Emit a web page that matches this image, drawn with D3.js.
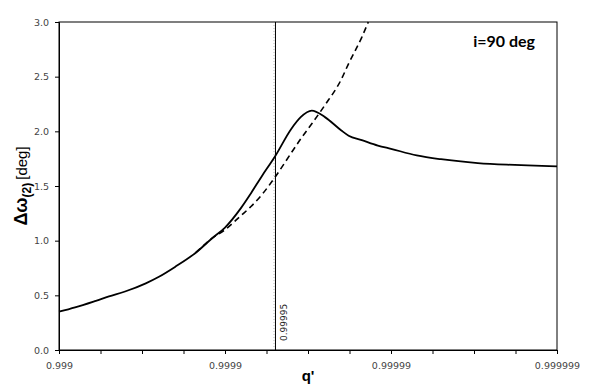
<!DOCTYPE html>
<html>
<head>
<meta charset="utf-8">
<script src="https://cdn.jsdelivr.net/npm/d3@7"></script>
<style>
  body { margin: 0; background: #fff; }
  .tick text { font-family: "DejaVu Sans", Verdana, sans-serif; font-size: 9.5px; fill: #444; }
  .tick line { stroke: #000; }
  .domain { stroke: #000; }
</style>
</head>
<body>
<div id="graphic"></div>
<script>
// q' values (solid curve) and Δω(2) in deg
const qSolid = [0.999, 0.9992, 0.9994, 0.9995, 0.9996, 0.9997, 0.99975, 0.9998, 0.99985, 0.99988,
  0.9999, 0.99992, 0.99993, 0.99994, 0.99995, 0.99996, 0.999965, 0.99997, 0.999975, 0.99998,
  0.999982, 0.999985, 0.999988, 0.99999, 0.999993, 0.999995, 0.999997, 0.999998, 0.9999985, 0.999999];
const wSolid = [0.35, 0.39, 0.45, 0.49, 0.535, 0.61, 0.67, 0.76, 0.89, 1.02,
  1.12, 1.30, 1.43, 1.59, 1.77, 2.02, 2.13, 2.19, 2.13, 2.01,
  1.96, 1.92, 1.87, 1.84, 1.78, 1.745, 1.71, 1.695, 1.688, 1.68];

// dashed curve
const qDash = [0.99985, 0.99988, 0.9999, 0.99992, 0.99993, 0.99994, 0.99995, 0.99996, 0.999965,
  0.99997, 0.999975, 0.99998, 0.999982, 0.999985, 0.9999863];
const wDash = [0.89, 1.02, 1.10, 1.23, 1.31, 1.42, 1.58, 1.80, 1.93,
  2.07, 2.24, 2.47, 2.62, 2.86, 3.0];

const xTicks = [0.999, 0.9999, 0.99999, 0.999999];
const xTickLabels = ['0.999', '0.9999', '0.99999', '0.999999'];
const yTicks = [0, 0.5, 1, 1.5, 2, 2.5, 3];
const markQ = 0.99995;

const width = 600, height = 389;
const margin = { top: 22, right: 43, bottom: 39, left: 59 };
const chartWidth = width - margin.left - margin.right;
const chartHeight = height - margin.top - margin.bottom;

const svg = d3.select('#graphic').append('svg')
  .attr('width', width).attr('height', height);
const g = svg.append('g').attr('transform', `translate(${margin.left},${margin.top})`);

// log scale on 1 - q'
const x = d3.scaleLog().domain([1e-3, 1e-6]).range([0, chartWidth]);
const xq = (q) => x(1 - q);
const y = d3.scaleLinear().domain([0, 3]).range([chartHeight, 0]);

// minor ticks every quarter decade
const minorTicks = [];
for (let k = 0; k <= 12; k++) minorTicks.push(Math.pow(10, -3 - k / 4));

g.append('g').attr('transform', `translate(0,${chartHeight})`)
  .call(d3.axisBottom(x).tickValues(minorTicks).tickSize(4).tickFormat(''))
  .call((a) => a.select('.domain').remove());

g.append('g').attr('class', 'x axis').attr('transform', `translate(0,${chartHeight})`)
  .call(d3.axisBottom(x).tickValues(xTicks.map((q) => 1 - q)).tickSize(4).tickPadding(8)
    .tickFormat((d, i) => xTickLabels[i]));

g.append('g').attr('class', 'y axis')
  .call(d3.axisLeft(y).tickValues(yTicks).tickSize(4).tickPadding(6).tickFormat(d3.format('.1f')));

// frame
g.append('rect').attr('width', chartWidth).attr('height', chartHeight)
  .attr('fill', 'none').attr('stroke', '#000').attr('stroke-width', 1);

// vertical marker
g.append('line')
  .attr('x1', xq(markQ) + 0.5).attr('x2', xq(markQ) + 0.5)
  .attr('y1', 0).attr('y2', chartHeight)
  .attr('stroke', '#000').attr('stroke-width', 1);
g.append('line')
  .attr('x1', xq(markQ) - 1).attr('x2', xq(markQ) - 1)
  .attr('y1', 0).attr('y2', chartHeight)
  .attr('stroke', '#888').attr('stroke-width', 0.6).attr('stroke-dasharray', '1,2');

g.append('text')
  .attr('transform', `translate(${xq(markQ) + 12},${chartHeight - 9}) rotate(-90)`)
  .attr('font-family', '"DejaVu Sans", Verdana, sans-serif')
  .attr('font-size', '9px').attr('fill', '#222')
  .text('0.99995');

const line = d3.line().curve(d3.curveMonotoneX);

g.append('path')
  .attr('d', line(qDash.map((q, i) => [xq(q), y(wDash[i])])))
  .attr('fill', 'none').attr('stroke', '#000').attr('stroke-width', 1.6)
  .attr('stroke-dasharray', '6,4');

g.append('path')
  .attr('d', line(qSolid.map((q, i) => [xq(q), y(wSolid[i])])))
  .attr('fill', 'none').attr('stroke', '#000').attr('stroke-width', 1.8);

// annotation
svg.append('text')
  .attr('x', 535).attr('y', 47).attr('text-anchor', 'end')
  .attr('font-family', 'Lato, "Open Sans", sans-serif')
  .attr('font-weight', 'bold').attr('font-size', '16px')
  .text('i=90 deg');

// axis titles
svg.append('text')
  .attr('x', 308).attr('y', 381).attr('text-anchor', 'middle')
  .attr('font-family', '"Liberation Sans", Arial, sans-serif')
  .attr('font-weight', 'bold').attr('font-size', '15px')
  .text("q'");

const yt = svg.append('text')
  .attr('transform', 'translate(27,186) rotate(-90)')
  .attr('text-anchor', 'middle')
  .attr('font-family', '"Liberation Sans", Arial, sans-serif');
yt.append('tspan').attr('font-weight', 'bold').attr('font-size', '18px').text('Δω');
yt.append('tspan').attr('font-weight', 'bold').attr('font-size', '12px').attr('dy', 4).text('(2)');
yt.append('tspan').attr('dy', -4).attr('dx', 3).attr('font-size', '15px').text('[deg]');
</script>
</body>
</html>
